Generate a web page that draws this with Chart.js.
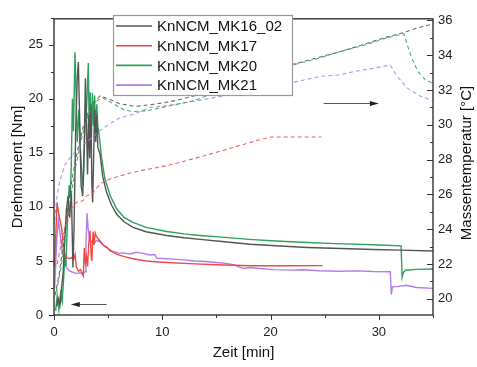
<!DOCTYPE html>
<html>
<head>
<meta charset="utf-8">
<script src="https://cdn.jsdelivr.net/npm/chart.js@4.4.0/dist/chart.umd.min.js"></script>
<style>
  html, body { margin: 0; padding: 0; background: #fff; }
</style>
</head>
<body>
<canvas id="TorqueChart" width="477" height="367"></canvas>
<script>
var seriesNames = ['KnNCM_MK16_02', 'KnNCM_MK17', 'KnNCM_MK20', 'KnNCM_MK21'];

var xTicks = [0, 10, 20, 30];
var torqueTicks = [0, 5, 10, 15, 20, 25];
var tempTicks = [20, 22, 24, 26, 28, 30, 32, 34, 36];

// Drehmoment [Nm] over Zeit [min]
var timeMK16 = [0.25, 0.4, 0.55, 0.7, 0.85, 1.0, 1.15, 1.3, 1.45, 1.6, 1.75, 1.85, 2.0, 2.15, 2.25, 2.35, 2.5, 2.65, 2.8, 2.9, 3.0, 3.1, 3.2, 3.3, 3.4, 3.5, 3.57, 3.65, 3.75, 3.85, 3.94, 4.05, 4.25, 4.5, 4.87, 5.3, 5.8, 6.5, 7.3, 8.5, 10.4, 12, 13.5, 15.5, 18.1, 20.5, 23.4, 26.5, 29.5, 32, 35];
var torqueMK16 = [0.8, 1.5, 0.9, 2.5, 4, 7, 9.8, 11, 9, 11.5, 4.4, 8, 17, 22, 23.4, 19, 12, 11, 16, 21.9, 17.6, 13, 18.5, 14.5, 19.5, 12, 10.4, 14, 19, 16, 18.5, 15.5, 14.9, 12.8, 11.3, 10.2, 9.3, 8.6, 8.1, 7.7, 7.35, 7.15, 7.0, 6.8, 6.55, 6.4, 6.25, 6.15, 6.06, 6.0, 5.92];

var timeMK17 = [0.05, 0.15, 0.28, 0.4, 0.55, 0.71, 0.85, 1.0, 1.2, 1.4, 1.6, 1.8, 1.95, 2.05, 2.25, 2.45, 2.6, 2.7, 2.8, 2.9, 3.0, 3.1, 3.2, 3.33, 3.42, 3.5, 3.6, 3.7, 3.8, 3.9, 4.25, 4.6, 5.2, 5.8, 6.5, 7.3, 8.5, 10.4, 12.5, 15, 18.1, 21, 24.8];
var torqueMK17 = [4.5, 7, 10.4, 9.6, 8.8, 8.0, 6.5, 5.6, 5.3, 5.2, 5.3, 5.1, 5.6, 4.5, 4.05, 4.2, 3.8, 3.6, 6.2, 4.8, 5.4, 4.5, 6.5, 7.8, 5.6, 5.0, 7.7, 6.5, 7.6, 7.3, 6.8, 6.4, 6.0, 5.6, 5.4, 5.2, 5.0, 4.86, 4.75, 4.65, 4.55, 4.55, 4.57];

var timeMK20 = [0.15, 0.3, 0.45, 0.6, 0.75, 0.9, 1.0, 1.1, 1.25, 1.4, 1.5, 1.6, 1.7, 1.8, 1.94, 2.05, 2.15, 2.3, 2.45, 2.6, 2.7, 2.85, 3.0, 3.17, 3.25, 3.35, 3.45, 3.55, 3.65, 3.75, 3.85, 3.95, 4.05, 4.2, 4.4, 4.7, 5.2, 5.8, 6.5, 7.3, 8.5, 10.4, 12, 13.5, 15.5, 18, 20.5, 23.4, 26, 29.5, 32.05, 32.15, 32.25, 32.45, 33.5, 35];
var torqueMK20 = [0.4, 1.8, 0.5, 2, 1.2, 3.5, 5.6, 4.5, 9, 12, 11, 14, 20, 17, 24.3, 20, 16, 19, 15, 12.5, 11.9, 17, 19, 23.3, 17, 20.6, 16, 20.5, 17.5, 20.3, 16.8, 19.5, 17.5, 16.4, 14.5, 12.6, 11, 9.8, 9.0, 8.56, 8.1, 7.72, 7.5, 7.36, 7.2, 7.0, 6.85, 6.7, 6.6, 6.5, 6.4, 3.5, 3.9, 4.14, 4.22, 4.26];

var timeMK21 = [0.05, 0.15, 0.25, 0.4, 0.55, 0.7, 0.86, 1.0, 1.17, 1.4, 1.63, 2.0, 2.4, 2.7, 2.87, 2.95, 3.05, 3.15, 3.3, 3.5, 3.7, 3.9, 4.1, 4.25, 4.5, 4.87, 5.2, 5.6, 6.0, 6.4, 7.0, 7.6, 8.25, 8.8, 9.3, 9.5, 10.5, 11.3, 12, 13, 14, 15, 16, 16.6, 17.2, 17.5, 18.1, 19, 20.3, 22, 23, 24.5, 26.4, 28, 29.5, 31.05, 31.15, 31.25, 31.8, 32.5, 33.5, 35];
var torqueMK21 = [2.5, 4.5, 7, 8.85, 7.6, 6.3, 5.55, 4.9, 4.35, 4.1, 4.0, 3.85, 3.9, 3.85, 4.0, 6.5, 9.4, 8.0, 6.9, 6.75, 6.6, 6.9, 6.8, 6.9, 6.5, 6.3, 5.9, 5.85, 5.7, 5.75, 5.65, 5.8, 5.7, 5.55, 5.6, 5.25, 5.2, 5.15, 5.1, 5.0, 4.95, 4.85, 4.75, 4.65, 4.4, 4.3, 4.4, 4.3, 4.2, 4.15, 4.18, 4.1, 4.05, 4.08, 4.02, 4.0, 1.9, 2.6, 2.65, 2.75, 2.55, 2.46];

// Massentemperatur [°C] over Zeit [min]
var tempTimeMK16 = [0.1, 0.5, 0.9, 1.3, 1.7, 2.2, 2.7, 3.2, 3.7, 4.25, 5.0, 6.1, 7.6, 9.5, 11.3, 13.5, 16, 19, 21.8, 24.6, 26.4, 28.5, 30.5, 32.3, 33.5, 35];
var tempMK16 = [20.2, 21.5, 23.4, 25.3, 27.0, 28.6, 29.9, 30.8, 31.3, 31.66, 31.5, 31.2, 31.06, 31.2, 31.4, 31.75, 32.2, 32.8, 33.43, 33.9, 34.2, 34.6, 35.0, 35.3, 35.55, 35.8];

var tempTimeMK17 = [0.3, 0.8, 1.3, 1.8, 2.1, 2.7, 3.0, 3.6, 4.25, 5.2, 7.33, 10.4, 13.5, 16, 19, 20, 22, 24.7];
var tempMK17 = [22.0, 23.6, 24.8, 25.4, 25.55, 25.65, 25.9, 26.1, 26.6, 26.9, 27.28, 27.65, 28.15, 28.6, 29.14, 29.3, 29.3, 29.3];

var tempTimeMK20 = [0.2, 0.6, 1.0, 1.5, 2.0, 2.5, 3.0, 3.5, 4.0, 4.5, 5.5, 6.5, 7.33, 8.5, 10, 12.9, 16, 19, 21.8, 24.6, 26.4, 28.5, 30.5, 32.3, 32.6, 33.0, 33.6, 34.3, 35];
var tempMK20 = [20.4, 21.6, 23.3, 25.6, 27.6, 29.1, 30.3, 31.0, 31.4, 31.55, 31.2, 30.85, 30.76, 30.8, 31.0, 31.38, 32.1, 32.75, 33.4, 33.85, 34.2, 34.55, 34.95, 35.24, 34.64, 33.9, 33.06, 32.59, 32.37];

var tempTimeMK21 = [0.05, 0.3, 0.55, 1.0, 1.48, 2.0, 2.7, 3.4, 4.1, 5.0, 6.1, 7.33, 8.9, 10.4, 13.2, 16, 19, 21.8, 24.6, 26.4, 27.7, 29.5, 31.05, 31.7, 32.6, 33.8, 35];
var tempMK21 = [24.5, 26.0, 26.8, 27.7, 28.1, 28.5, 28.86, 29.2, 29.6, 30.0, 30.4, 30.6, 31.0, 31.1, 31.38, 31.7, 32.05, 32.4, 32.78, 32.87, 33.06, 33.25, 33.43, 32.78, 32.12, 31.66, 31.38];

var lineColors = ['rgb(85, 85, 85)', 'rgb(240, 72, 72)', 'rgb(46, 160, 92)', 'rgb(176, 126, 232)'];
var fontFamily = '"Liberation Sans", Arial, Helvetica, sans-serif';

function zip(xs, ys) {
    return xs.map(function (x, i) { return { x: x, y: ys[i] }; });
}

var torqueSets = [[timeMK16, torqueMK16], [timeMK17, torqueMK17], [timeMK20, torqueMK20], [timeMK21, torqueMK21]];
var tempSets = [[tempTimeMK16, tempMK16], [tempTimeMK17, tempMK17], [tempTimeMK20, tempMK20], [tempTimeMK21, tempMK21]];

var datasets = [];
tempSets.forEach(function (s, i) {
    datasets.push({
        label: seriesNames[i] + ' T',
        data: zip(s[0], s[1]),
        yAxisID: 'y1',
        borderColor: lineColors[i].replace('rgb', 'rgba').replace(')', ', 0.85)'),
        borderWidth: 1.1,
        borderDash: [4, 3],
        pointRadius: 0,
        tension: 0,
        isTemp: true
    });
});
torqueSets.forEach(function (s, i) {
    datasets.push({
        label: seriesNames[i],
        data: zip(s[0], s[1]),
        yAxisID: 'y',
        borderColor: lineColors[i],
        borderWidth: 1.4,
        pointRadius: 0,
        tension: 0
    });
});

// frame, tick marks (right axis ticks point inward), arrows
var frameTicks = {
    id: 'frameTicks',
    afterDatasetsDraw: function (chart) {
        var ctx = chart.ctx, a = chart.chartArea;
        var sx = chart.scales.x, sy = chart.scales.y, sy1 = chart.scales.y1;
        ctx.save();
        ctx.strokeStyle = '#333';
        ctx.lineWidth = 1.4;
        ctx.strokeRect(a.left, a.top, a.right - a.left, a.bottom - a.top);
        ctx.lineWidth = 1;
        ctx.beginPath();
        var v, p, len;
        for (v = 0; v <= 35; v += 5) {
            p = Math.round(sx.getPixelForValue(v)) + 0.5;
            len = v % 10 === 0 ? 5 : 3;
            ctx.moveTo(p, a.bottom); ctx.lineTo(p, a.bottom + len);
        }
        for (v = 0; v <= 27.5; v += 2.5) {
            p = Math.round(sy.getPixelForValue(v)) + 0.5;
            len = v % 5 === 0 ? 5 : 3;
            ctx.moveTo(a.left, p); ctx.lineTo(a.left - len, p);
        }
        for (v = 20; v <= 36; v += 1) {
            p = Math.round(sy1.getPixelForValue(v)) + 0.5;
            len = v % 2 === 0 ? 6 : 3;
            ctx.moveTo(a.right, p); ctx.lineTo(a.right - len, p);
        }
        ctx.stroke();

        // arrows pointing to the axis each curve family belongs to
        drawArrow(ctx, sx.getPixelForValue(4.85), sx.getPixelForValue(1.55), sy.getPixelForValue(1.05));
        drawArrow(ctx, sx.getPixelForValue(24.9), sx.getPixelForValue(30.0), sy1.getPixelForValue(31.28));
        ctx.restore();
    },
    afterDraw: function (chart) {
        var ctx = chart.ctx;
        // legend box
        ctx.save();
        ctx.fillStyle = '#fff';
        ctx.fillRect(113, 15, 179, 80);
        ctx.strokeStyle = '#9a9a9a';
        ctx.lineWidth = 1.2;
        ctx.strokeRect(113.5, 15.5, 179, 80);
        ctx.font = '15px ' + fontFamily;
        ctx.textBaseline = 'middle';
        ctx.textAlign = 'left';
        seriesNames.forEach(function (name, i) {
            var y = 26 + i * 19.7;
            ctx.strokeStyle = lineColors[i];
            ctx.lineWidth = 1.6;
            ctx.beginPath();
            ctx.moveTo(116, y); ctx.lineTo(152, y);
            ctx.stroke();
            ctx.fillStyle = '#111';
            ctx.fillText(name, 157, y + 1);
        });
        // right axis title, read bottom to top
        ctx.translate(467, 163);
        ctx.rotate(-Math.PI / 2);
        ctx.textAlign = 'center';
        ctx.fillText('Massentemperatur [°C]', 0, 0);
        ctx.restore();
    }
};

function drawArrow(ctx, x1, x2, y) {
    var dir = x2 > x1 ? 1 : -1;
    y = Math.round(y) + 0.5;
    ctx.strokeStyle = '#555';
    ctx.lineWidth = 1;
    ctx.beginPath();
    ctx.moveTo(x1, y); ctx.lineTo(x2 - dir * 6, y);
    ctx.stroke();
    ctx.fillStyle = '#222';
    ctx.beginPath();
    ctx.moveTo(x2, y);
    ctx.lineTo(x2 - dir * 9, y - 2.5);
    ctx.lineTo(x2 - dir * 9, y + 2.5);
    ctx.closePath();
    ctx.fill();
}

function fixedTicks(values) {
    return function (scale) {
        scale.ticks = values.map(function (v) { return { value: v }; });
    };
}

var ctxtorque = document.getElementById('TorqueChart');
var TorqueChart = new Chart(ctxtorque, {
    type: 'line',
    data: { datasets: datasets },
    options: {
        responsive: false,
        animation: false,
        devicePixelRatio: 1,
        layout: { padding: { top: 11, left: 0, right: 0, bottom: 0 } },
        plugins: { legend: { display: false }, tooltip: { enabled: false } },
        scales: {
            x: {
                type: 'linear',
                min: 0,
                max: 35,
                afterBuildTicks: fixedTicks(xTicks),
                afterFit: function (s) { s.height = 52; },
                grid: { display: false, drawTicks: false },
                border: { display: false },
                ticks: { padding: 10, color: '#222', font: { family: fontFamily, size: 13 } },
                title: { display: true, text: 'Zeit [min]', color: '#111', padding: { top: 0, bottom: 5 }, font: { family: fontFamily, size: 15 } }
            },
            y: {
                type: 'linear',
                position: 'left',
                min: 0,
                max: 27.4,
                afterBuildTicks: fixedTicks(torqueTicks),
                afterFit: function (s) { s.width = 54; },
                grid: { display: false, drawTicks: false },
                border: { display: false },
                ticks: { padding: 11, color: '#222', font: { family: fontFamily, size: 13 } },
                title: { display: true, text: 'Drehmoment [Nm]', color: '#111', padding: { top: 9, bottom: 0 }, font: { family: fontFamily, size: 15 } }
            },
            y1: {
                type: 'linear',
                position: 'right',
                min: 19.07,
                max: 36.09,
                afterBuildTicks: fixedTicks(tempTicks),
                afterFit: function (s) { s.width = 44; },
                grid: { display: false, drawTicks: false },
                border: { display: false },
                ticks: { padding: 5, color: '#222', font: { family: fontFamily, size: 13 } }
            }
        }
    },
    plugins: [frameTicks]
});
</script>
</body>
</html>
